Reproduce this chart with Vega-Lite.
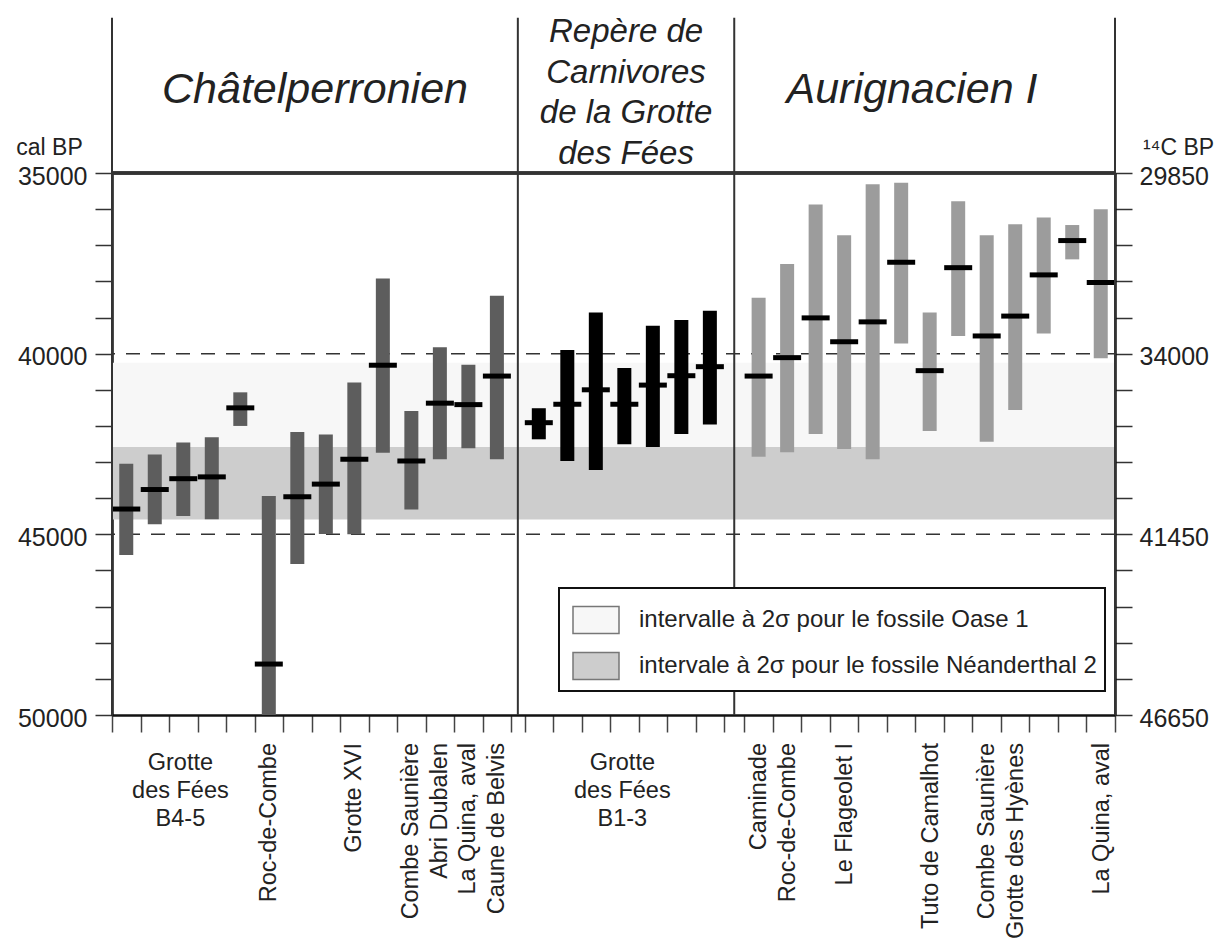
{
  "$schema": "https://vega.github.io/schema/vega-lite/v6.json",
  "width": 1003,
  "height": 542,
  "autosize": "none",
  "padding": {"left": 112, "top": 173, "right": 114, "bottom": 225},
  "background": "white",
  "config": {
    "font": "Liberation Sans",
    "view": {"stroke": null},
    "axis": {"grid": false, "labelFont": "Liberation Sans", "titleFont": "Liberation Sans"},
    "text": {"font": "Liberation Sans"}
  },
  "datasets": {
    "dates": [
      {"period": "Châtelperronien", "pos": 0.5, "high": 43050, "low": 45570, "median": 44300},
      {"period": "Châtelperronien", "pos": 1.5, "high": 42790, "low": 44720, "median": 43760},
      {"period": "Châtelperronien", "pos": 2.5, "high": 42460, "low": 44490, "median": 43460},
      {"period": "Châtelperronien", "pos": 3.5, "high": 42310, "low": 44580, "median": 43410},
      {"period": "Châtelperronien", "pos": 4.5, "high": 41070, "low": 42000, "median": 41500},
      {"period": "Châtelperronien", "pos": 5.5, "high": 43940, "low": 50000, "median": 48590},
      {"period": "Châtelperronien", "pos": 6.5, "high": 42170, "low": 45820, "median": 43960},
      {"period": "Châtelperronien", "pos": 7.5, "high": 42240, "low": 44990, "median": 43610},
      {"period": "Châtelperronien", "pos": 8.5, "high": 40800, "low": 45000, "median": 42920},
      {"period": "Châtelperronien", "pos": 9.5, "high": 37920, "low": 42740, "median": 40320},
      {"period": "Châtelperronien", "pos": 10.5, "high": 41590, "low": 44310, "median": 42970},
      {"period": "Châtelperronien", "pos": 11.5, "high": 39820, "low": 42920, "median": 41370},
      {"period": "Châtelperronien", "pos": 12.5, "high": 40310, "low": 42620, "median": 41410},
      {"period": "Châtelperronien", "pos": 13.5, "high": 38400, "low": 42920, "median": 40620},
      {"period": "Repère", "pos": 14.97, "high": 41510, "low": 42370, "median": 41910},
      {"period": "Repère", "pos": 15.97, "high": 39900, "low": 42970, "median": 41400},
      {"period": "Repère", "pos": 16.97, "high": 38860, "low": 43220, "median": 41000},
      {"period": "Repère", "pos": 17.97, "high": 40400, "low": 42510, "median": 41400},
      {"period": "Repère", "pos": 18.97, "high": 39230, "low": 42580, "median": 40870},
      {"period": "Repère", "pos": 19.97, "high": 39070, "low": 42220, "median": 40610},
      {"period": "Repère", "pos": 20.97, "high": 38810, "low": 41960, "median": 40360},
      {"period": "Aurignacien I", "pos": 22.68, "high": 38450, "low": 42850, "median": 40620},
      {"period": "Aurignacien I", "pos": 23.68, "high": 37520, "low": 42730, "median": 40110},
      {"period": "Aurignacien I", "pos": 24.68, "high": 35870, "low": 42220, "median": 39010},
      {"period": "Aurignacien I", "pos": 25.68, "high": 36720, "low": 42640, "median": 39670},
      {"period": "Aurignacien I", "pos": 26.68, "high": 35310, "low": 42920, "median": 39120},
      {"period": "Aurignacien I", "pos": 27.68, "high": 35270, "low": 39720, "median": 37470},
      {"period": "Aurignacien I", "pos": 28.68, "high": 38860, "low": 42140, "median": 40470},
      {"period": "Aurignacien I", "pos": 29.68, "high": 35780, "low": 39510, "median": 37620},
      {"period": "Aurignacien I", "pos": 30.68, "high": 36720, "low": 42440, "median": 39510},
      {"period": "Aurignacien I", "pos": 31.68, "high": 36420, "low": 41560, "median": 38960},
      {"period": "Aurignacien I", "pos": 32.68, "high": 36230, "low": 39440, "median": 37820},
      {"period": "Aurignacien I", "pos": 33.68, "high": 36440, "low": 37390, "median": 36870},
      {"period": "Aurignacien I", "pos": 34.68, "high": 36000, "low": 40130, "median": 38030}
    ],
    "bands": [
      {"interval": "intervalle à  2σ pour le fossile Oase 1", "y0": 40250, "y1": 42580},
      {"interval": "intervale à 2σ pour le fossile Néanderthal 2", "y0": 42580, "y1": 44590}
    ],
    "levels": [{"level": 40000}, {"level": 45000}],
    "separators": [{"b": 0}, {"b": 14.235}, {"b": 21.825}, {"b": 35.18}],
    "headers": [
      {"type": "industrie", "label": "Châtelperronien", "x": 7.12},
      {"type": "repère", "label": "Repère de\nCarnivores\nde la Grotte\ndes Fées", "x": 18.03},
      {"type": "industrie", "label": "Aurignacien I", "x": 28.06}
    ],
    "labelsH": [
      {"label": "Grotte\ndes Fées\nB4-5", "pos": 2.4},
      {"label": "Grotte\ndes Fées\nB1-3", "pos": 17.9}
    ],
    "labelsV": [
      {"label": "Roc-de-Combe", "pos": 5.5},
      {"label": "Grotte XVI", "pos": 8.5},
      {"label": "Combe Saunière", "pos": 10.5},
      {"label": "Abri Dubalen", "pos": 11.5},
      {"label": "La Quina, aval", "pos": 12.5},
      {"label": "Caune de Belvis", "pos": 13.5},
      {"label": "Caminade", "pos": 22.68},
      {"label": "Roc-de-Combe", "pos": 23.72},
      {"label": "Le Flageolet I", "pos": 25.72},
      {"label": "Tuto de Camalhot", "pos": 28.72},
      {"label": "Combe Saunière", "pos": 30.68},
      {"label": "Grotte des Hyènes", "pos": 31.72},
      {"label": "La Quina, aval", "pos": 34.72}
    ]
  },
  "layer": [
    {
      "layer": [
        {
          "data": {"name": "bands"},
          "mark": {"type": "rect"},
          "encoding": {
            "y": {
              "field": "y0", "type": "quantitative",
              "scale": {"domain": [35000, 50000], "reverse": true, "nice": false, "zero": false},
              "axis": {
                "orient": "left",
                "values": [35000, 36000, 37000, 38000, 39000, 40000, 41000, 42000, 43000, 44000, 45000, 46000, 47000, 48000, 49000, 50000],
                "tickCount": 100,
                "labelExpr": "datum.value % 5000 === 0 ? datum.value + '' : ''",
                "labelOverlap": false,
                "labelFlush": false,
                "labelOffset": 3,
                "tickSize": 17,
                "tickColor": "#333",
                "tickWidth": 1.5,
                "domainColor": "#111",
                "domainWidth": 2.5,
                "labelFontSize": 25,
                "labelColor": "#222",
                "labelPadding": 8,
                "title": "cal BP",
                "titleAngle": 0,
                "titleX": -63,
                "titleY": -19,
                "titleAlign": "center",
                "titleBaseline": "alphabetic",
                "titleFontSize": 23,
                "titleFontWeight": "normal",
                "titleColor": "#222"
              }
            },
            "y2": {"field": "y1"},
            "fill": {
              "field": "interval", "type": "nominal",
              "scale": {
                "domain": ["intervalle à  2σ pour le fossile Oase 1", "intervale à 2σ pour le fossile Néanderthal 2"],
                "range": ["#f7f7f7", "#cdcdcd"]
              },
              "legend": {
                "orient": "none",
                "legendX": 447,
                "legendY": 415,
                "title": null,
                "strokeColor": "#111",
                "fillColor": "white",
                "padding": 8,
                "symbolOffset": 5,
                "symbolType": "M-1,-0.587H1V0.587H-1Z",
                "symbolSize": 2116,
                "symbolStrokeColor": "#777",
                "symbolStrokeWidth": 1.5,
                "labelFontSize": 24,
                "labelColor": "#222",
                "labelOffset": 19,
                "labelLimit": 700,
                "rowPadding": 5,
                "encode": {"legend": {"update": {"strokeWidth": {"value": 2}}}}
              }
            }
          }
        },
        {
          "data": {"name": "levels"},
          "mark": {"type": "rule", "strokeDash": [14, 11], "color": "#333", "strokeWidth": 1.5},
          "encoding": {
            "y": {"field": "level", "type": "quantitative", "scale": {"domain": [35000, 50000], "reverse": true, "nice": false, "zero": false}}
          }
        },
        {
          "data": {"name": "dates"},
          "mark": {"type": "rule", "strokeWidth": 14},
          "encoding": {
            "x": {
              "field": "pos", "type": "quantitative",
              "scale": {"domain": [0, 35.18], "nice": false, "zero": false},
              "axis": {
                "orient": "bottom",
                "values": [0, 1, 2, 3, 4, 5, 6, 7, 8, 9, 10, 11, 12, 13, 14, 14.47, 15.47, 16.47, 17.47, 18.47, 19.47, 20.47, 21.47, 22.18, 23.18, 24.18, 25.18, 26.18, 27.18, 28.18, 29.18, 30.18, 31.18, 32.18, 33.18, 34.18, 35.18],
                "tickCount": 100,
                "labels": false,
                "tickSize": 17,
                "tickColor": "#444",
                "tickWidth": 1.5,
                "domainColor": "#111",
                "domainWidth": 2.5,
                "title": null
              }
            },
            "y": {"field": "high", "type": "quantitative", "scale": {"domain": [35000, 50000], "reverse": true, "nice": false, "zero": false}},
            "y2": {"field": "low"},
            "color": {
              "field": "period", "type": "nominal",
              "scale": {"domain": ["Châtelperronien", "Repère", "Aurignacien I"], "range": ["#5d5d5d", "#000000", "#9c9c9c"]},
              "legend": null
            }
          }
        },
        {
          "data": {"name": "dates"},
          "mark": {"type": "tick", "orient": "horizontal", "size": 28, "thickness": 5, "color": "#000000", "opacity": 1},
          "encoding": {
            "x": {"field": "pos", "type": "quantitative", "scale": {"domain": [0, 35.18], "nice": false, "zero": false}},
            "y": {"field": "median", "type": "quantitative", "scale": {"domain": [35000, 50000], "reverse": true, "nice": false, "zero": false}}
          }
        },
        {
          "data": {"name": "separators"},
          "mark": {"type": "rule", "color": "#333", "strokeWidth": 2, "clip": false},
          "encoding": {
            "x": {"field": "b", "type": "quantitative", "scale": {"domain": [0, 35.18], "nice": false, "zero": false}},
            "y": {"datum": 30700, "scale": {"domain": [35000, 50000], "reverse": true, "nice": false, "zero": false}},
            "y2": {"datum": 50000}
          }
        },
        {
          "data": {"name": "levels"},
          "mark": {"type": "rule", "color": "#333", "strokeWidth": 3.5},
          "encoding": {
            "y": {"datum": 35000, "scale": {"domain": [35000, 50000], "reverse": true, "nice": false, "zero": false}}
          }
        },
        {
          "data": {"name": "headers"},
          "transform": [{"filter": "datum.type === 'industrie'"}],
          "mark": {"type": "text", "fontSize": 43, "fontStyle": "italic", "align": "center", "baseline": "middle", "color": "#222", "clip": false},
          "encoding": {
            "x": {"field": "x", "type": "quantitative", "scale": {"domain": [0, 35.18], "nice": false, "zero": false}},
            "y": {"datum": 32700, "scale": {"domain": [35000, 50000], "reverse": true, "nice": false, "zero": false}},
            "text": {"field": "label"}
          }
        },
        {
          "data": {"name": "headers"},
          "transform": [{"filter": "datum.type === 'repère'"}],
          "mark": {"type": "text", "fontSize": 33, "fontStyle": "italic", "align": "center", "baseline": "middle", "lineBreak": "\n", "lineHeight": 40.5, "color": "#222", "clip": false},
          "encoding": {
            "x": {"field": "x", "type": "quantitative", "scale": {"domain": [0, 35.18], "nice": false, "zero": false}},
            "y": {"datum": 31100, "scale": {"domain": [35000, 50000], "reverse": true, "nice": false, "zero": false}},
            "text": {"field": "label"}
          }
        },
        {
          "data": {"name": "labelsH"},
          "mark": {"type": "text", "fontSize": 23.5, "align": "center", "baseline": "top", "dy": 36, "lineBreak": "\n", "lineHeight": 28, "color": "#222", "clip": false},
          "encoding": {
            "x": {"field": "pos", "type": "quantitative", "scale": {"domain": [0, 35.18], "nice": false, "zero": false}},
            "y": {"datum": 50000, "scale": {"domain": [35000, 50000], "reverse": true, "nice": false, "zero": false}},
            "text": {"field": "label"}
          }
        },
        {
          "data": {"name": "labelsV"},
          "mark": {"type": "text", "fontSize": 23.5, "angle": 270, "align": "right", "baseline": "middle", "dx": -28, "color": "#222", "clip": false},
          "encoding": {
            "x": {"field": "pos", "type": "quantitative", "scale": {"domain": [0, 35.18], "nice": false, "zero": false}},
            "y": {"datum": 50000, "scale": {"domain": [35000, 50000], "reverse": true, "nice": false, "zero": false}},
            "text": {"field": "label"}
          }
        }
      ]
    },
    {
      "data": {"name": "levels"},
      "mark": {"type": "rule", "opacity": 0},
      "encoding": {
        "y": {
          "field": "level", "type": "quantitative",
          "scale": {"domain": [35000, 50000], "reverse": true, "nice": false, "zero": false},
          "axis": {
            "orient": "right",
            "values": [35000, 36000, 37000, 38000, 39000, 40000, 41000, 42000, 43000, 44000, 45000, 46000, 47000, 48000, 49000, 50000],
            "tickCount": 100,
            "labelExpr": "datum.value === 35000 ? '29850' : datum.value === 40000 ? '34000' : datum.value === 45000 ? '41450' : datum.value === 50000 ? '46650' : ''",
            "labelOverlap": false,
            "labelFlush": false,
            "labelOffset": 3,
            "tickSize": 17,
            "tickColor": "#333",
            "tickWidth": 1.5,
            "domainColor": "#111",
            "domainWidth": 2.5,
            "labelFontSize": 25,
            "labelColor": "#222",
            "labelPadding": 7,
            "title": "¹⁴C BP",
            "titleAngle": 0,
            "titleX": 63,
            "titleY": -19,
            "titleAlign": "center",
            "titleBaseline": "alphabetic",
            "titleFontSize": 23,
            "titleFontWeight": "normal",
            "titleColor": "#222"
          }
        }
      }
    }
  ],
  "resolve": {"axis": {"y": "independent"}}
}
